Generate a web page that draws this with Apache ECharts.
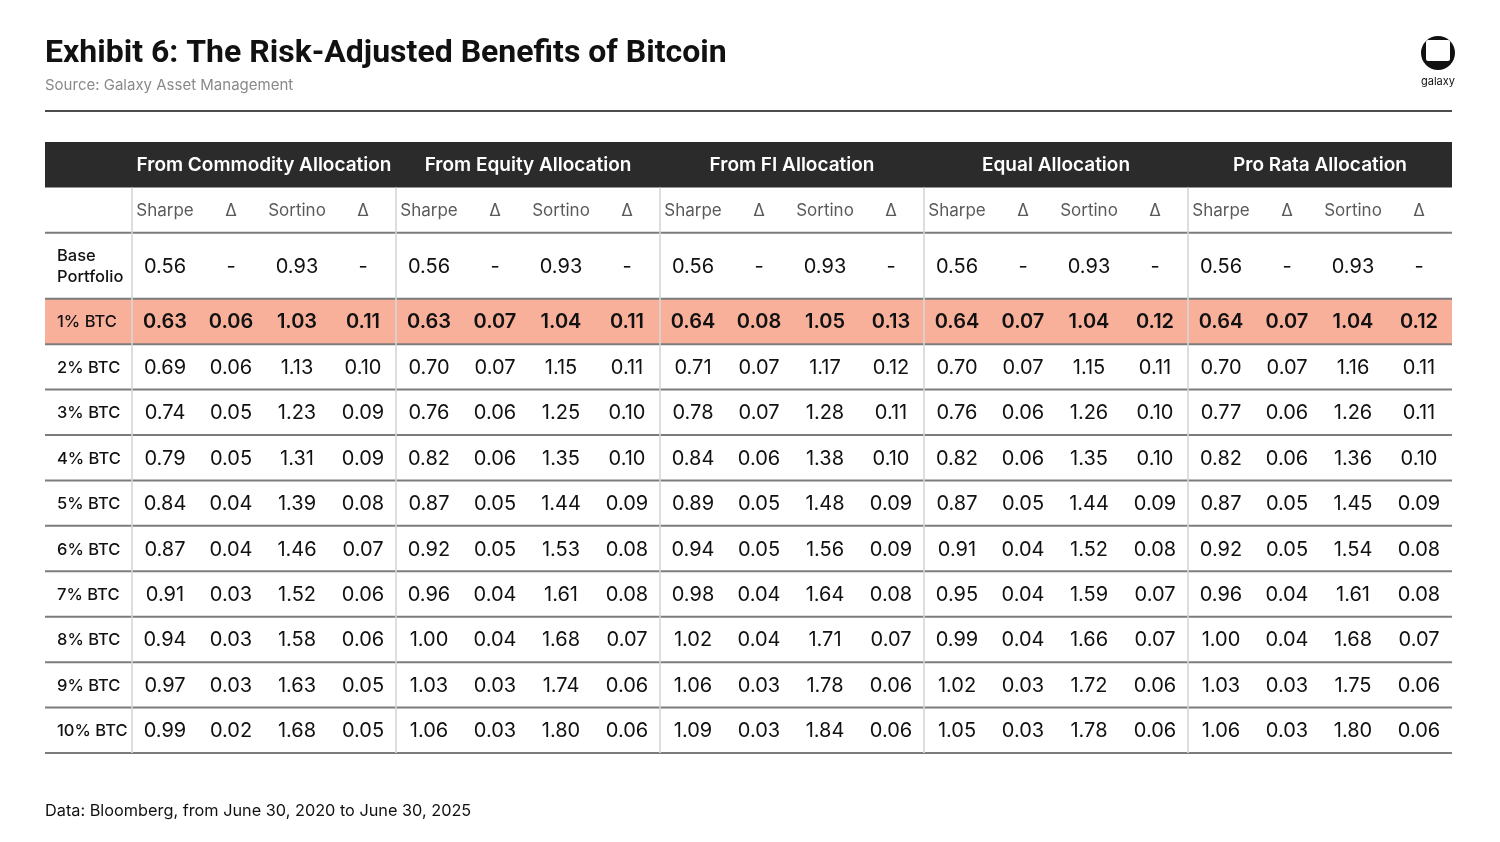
<!DOCTYPE html>
<html>
<head>
<meta charset="utf-8">
<title>Exhibit 6</title>
<script src="https://cdn.jsdelivr.net/npm/echarts@6/dist/echarts.min.js"></script>
<style>
html, body { margin: 0; padding: 0; background: #fff; }
#chart { width: 1500px; height: 842px; }
</style>
</head>
<body>
<div id="chart"></div>
<script>
// table content
var groups = ['From Commodity Allocation', 'From Equity Allocation', 'From FI Allocation', 'Equal Allocation', 'Pro Rata Allocation'];
var subCols = ['Sharpe', 'Δ', 'Sortino', 'Δ'];
var rowLabels = ['Base\nPortfolio', '1% BTC', '2% BTC', '3% BTC', '4% BTC', '5% BTC', '6% BTC', '7% BTC', '8% BTC', '9% BTC', '10% BTC'];
var highlightRow = '1% BTC';

// Sharpe, delta, Sortino, delta (null = no change)
var basePortfolio = [0.56, null, 0.93, null];

var fromCommodity = [
    [0.63, 0.06, 1.03, 0.11], [0.69, 0.06, 1.13, 0.10], [0.74, 0.05, 1.23, 0.09], [0.79, 0.05, 1.31, 0.09],
    [0.84, 0.04, 1.39, 0.08], [0.87, 0.04, 1.46, 0.07], [0.91, 0.03, 1.52, 0.06], [0.94, 0.03, 1.58, 0.06],
    [0.97, 0.03, 1.63, 0.05], [0.99, 0.02, 1.68, 0.05]
];
var fromEquity = [
    [0.63, 0.07, 1.04, 0.11], [0.70, 0.07, 1.15, 0.11], [0.76, 0.06, 1.25, 0.10], [0.82, 0.06, 1.35, 0.10],
    [0.87, 0.05, 1.44, 0.09], [0.92, 0.05, 1.53, 0.08], [0.96, 0.04, 1.61, 0.08], [1.00, 0.04, 1.68, 0.07],
    [1.03, 0.03, 1.74, 0.06], [1.06, 0.03, 1.80, 0.06]
];
var fromFI = [
    [0.64, 0.08, 1.05, 0.13], [0.71, 0.07, 1.17, 0.12], [0.78, 0.07, 1.28, 0.11], [0.84, 0.06, 1.38, 0.10],
    [0.89, 0.05, 1.48, 0.09], [0.94, 0.05, 1.56, 0.09], [0.98, 0.04, 1.64, 0.08], [1.02, 0.04, 1.71, 0.07],
    [1.06, 0.03, 1.78, 0.06], [1.09, 0.03, 1.84, 0.06]
];
var equalAlloc = [
    [0.64, 0.07, 1.04, 0.12], [0.70, 0.07, 1.15, 0.11], [0.76, 0.06, 1.26, 0.10], [0.82, 0.06, 1.35, 0.10],
    [0.87, 0.05, 1.44, 0.09], [0.91, 0.04, 1.52, 0.08], [0.95, 0.04, 1.59, 0.07], [0.99, 0.04, 1.66, 0.07],
    [1.02, 0.03, 1.72, 0.06], [1.05, 0.03, 1.78, 0.06]
];
var proRata = [
    [0.64, 0.07, 1.04, 0.12], [0.70, 0.07, 1.16, 0.11], [0.77, 0.06, 1.26, 0.11], [0.82, 0.06, 1.36, 0.10],
    [0.87, 0.05, 1.45, 0.09], [0.92, 0.05, 1.54, 0.08], [0.96, 0.04, 1.61, 0.08], [1.00, 0.04, 1.68, 0.07],
    [1.03, 0.03, 1.75, 0.06], [1.06, 0.03, 1.80, 0.06]
];

var groupValues = [fromCommodity, fromEquity, fromFI, equalAlloc, proRata];

// layout in axis units (one column = 1, one row = 1)
var LABEL_W = 87 / 66;
var rowUnits = [1, 1, 1.45, 1, 1, 1, 1, 1, 1, 1, 1, 1, 1];
var rowTop = [0];
rowUnits.forEach(function (u, i) { rowTop.push(rowTop[i] + u); });
var TOTAL_H = rowTop[rowTop.length - 1];
var NCOLS = groups.length * subCols.length;

var FONT = 'Inter, "Noto Sans", sans-serif';

// build cells: {x0, x1, row, text, kind}
var cells = [];
cells.push({ x0: -LABEL_W, x1: NCOLS, row: 0, text: '', kind: 'bar' });
groups.forEach(function (g, gi) {
    cells.push({ x0: gi * 4, x1: gi * 4 + 4, row: 0, text: g, kind: 'group' });
    subCols.forEach(function (s, si) {
        cells.push({ x0: gi * 4 + si, x1: gi * 4 + si + 1, row: 1, text: s, kind: 'sub' });
    });
});
rowLabels.forEach(function (lab, ri) {
    var row = ri + 2;
    var hl = lab === highlightRow;
    if (hl) cells.push({ x0: -LABEL_W, x1: NCOLS, row: row, text: '', kind: 'hlbg' });
    cells.push({ x0: -LABEL_W, x1: 0, row: row, text: lab, kind: 'label' });
    groupValues.forEach(function (vals, gi) {
        var r = ri === 0 ? basePortfolio : vals[ri - 1];
        r.forEach(function (v, si) {
            cells.push({
                x0: gi * 4 + si, x1: gi * 4 + si + 1, row: row,
                text: v == null ? '-' : v.toFixed(2),
                kind: hl ? 'valueHl' : 'value'
            });
        });
    });
});

// grid lines
var lines = [];
for (var r = 2; r <= rowLabels.length + 2; r++) lines.push({ dir: 'h', at: rowTop[r] });
for (var g = 0; g < groups.length; g++) lines.push({ dir: 'v', at: g * 4 });

function renderCell(params, api) {
    var c = cells[api.value(2)];
    var p0 = api.coord([c.x0, rowTop[c.row]]);
    var p1 = api.coord([c.x1, rowTop[c.row + 1]]);
    var w = p1[0] - p0[0], h = p1[1] - p0[1];
    var cx = p0[0] + w / 2, cy = p0[1] + h / 2;
    if (c.kind === 'bar') {
        return { type: 'rect', shape: { x: p0[0], y: p0[1], width: w, height: h }, style: { fill: '#2b2b2b' } };
    }
    if (c.kind === 'hlbg') {
        return { type: 'rect', shape: { x: p0[0], y: p0[1], width: w, height: h }, style: { fill: '#f9b09b' } };
    }
    var st = { text: c.text, x: cx, y: cy + 1, align: 'center', verticalAlign: 'middle', fontFamily: FONT };
    if (c.kind === 'group') {
        st.fill = '#ffffff'; st.fontSize = 19; st.fontWeight = 600;
    } else if (c.kind === 'sub') {
        st.fill = '#5a5a5a'; st.fontSize = 17; st.fontWeight = 400;
    } else if (c.kind === 'label') {
        st.x = p0[0] + 12; st.align = 'left'; st.fill = '#111'; st.fontSize = 16.5; st.fontWeight = 500;
        st.lineHeight = 21;
    } else if (c.kind === 'valueHl') {
        st.fill = '#111'; st.fontSize = 20; st.fontWeight = 600;
    } else {
        st.fill = '#111'; st.fontSize = 20; st.fontWeight = 400;
    }
    return { type: 'text', style: st };
}

function renderLine(params, api) {
    var l = lines[api.value(2)];
    var a, b;
    if (l.dir === 'h') {
        a = api.coord([-LABEL_W, l.at]); b = api.coord([NCOLS, l.at]);
        return { type: 'line', shape: { x1: a[0], y1: a[1], x2: b[0], y2: b[1] }, style: { stroke: '#7c7c7c', lineWidth: 2 } };
    }
    a = api.coord([l.at, rowTop[1]]); b = api.coord([l.at, TOTAL_H]);
    return { type: 'line', shape: { x1: a[0], y1: a[1], x2: b[0], y2: b[1] }, style: { stroke: '#d6d6d6', lineWidth: 2, opacity: 0.8 } };
}

var chart = echarts.init(document.getElementById('chart'));

var option = {
    animation: false,
    grid: { left: 45, right: 48, top: 142, bottom: 89 },
    xAxis: { type: 'value', min: -LABEL_W, max: NCOLS, show: false },
    yAxis: { type: 'value', min: 0, max: TOTAL_H, inverse: true, show: false },
    graphic: [
        { type: 'text', left: 45, top: 38, style: { text: 'Exhibit 6: The Risk-Adjusted Benefits of Bitcoin', fill: '#111', fontSize: 32, fontWeight: 700, fontFamily: 'Roboto, sans-serif' } },
        { type: 'text', left: 45, top: 78, style: { text: 'Source: Galaxy Asset Management', fill: '#8a8a8a', fontSize: 15, fontFamily: FONT } },
        { type: 'line', shape: { x1: 45, y1: 111, x2: 1452, y2: 111 }, style: { stroke: '#111', lineWidth: 1.5 } },
        { type: 'text', left: 45, top: 803, style: { text: 'Data: Bloomberg, from June 30, 2020 to June 30, 2025', fill: '#111', fontSize: 16.3, fontFamily: FONT } },
        // logo
        { type: 'circle', shape: { cx: 1438, cy: 53, r: 17 }, style: { fill: '#111' } },
        { type: 'rect', shape: { x: 1426, y: 40, width: 24, height: 21, r: 2 }, style: { fill: '#fff' } },
        { type: 'text', left: 1421, top: 76, style: { text: 'galaxy', fill: '#111', fontSize: 11, fontFamily: FONT } }
    ],
    series: [
        {
            type: 'custom',
            renderItem: renderCell,
            clip: false,
            silent: true,
            encode: { x: 0, y: 1 },
            data: cells.map(function (c, i) { return [c.x0, rowTop[c.row], i]; }),
            z: 1
        },
        {
            type: 'custom',
            renderItem: renderLine,
            clip: false,
            silent: true,
            encode: { x: 0, y: 1 },
            data: lines.map(function (l, i) { return [0, 0, i]; }),
            z: 2
        }
    ]
};

chart.setOption(option);
</script>
</body>
</html>
